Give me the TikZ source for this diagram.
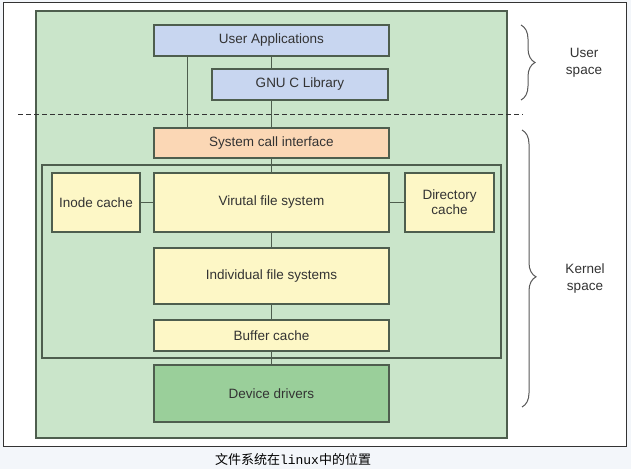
\documentclass[tikz,border=0pt]{standalone}
\usepackage{fontspec}
\setmainfont{Liberation Sans}
\newfontfamily\cjk{Noto Sans CJK SC}
\newfontfamily\monof{Liberation Mono}
\usepackage{xcolor}
\usepackage{tikz}
\usetikzlibrary{positioning,calc,decorations.pathreplacing}
\definecolor{pagebg}{HTML}{F3F6FA}
\definecolor{kgreen}{HTML}{CAE5CA}
\definecolor{kline}{HTML}{4E5E4E}
\definecolor{ublue}{HTML}{C8D6F0}
\definecolor{sorange}{HTML}{FBD7B5}
\definecolor{fyellow}{HTML}{FDF7C6}
\definecolor{dgreen}{HTML}{9ACF9A}
\definecolor{txt}{HTML}{333333}
\tikzset{
  layerbox/.style={draw=kline,line width=1.2pt,inner sep=0pt,align=center,
    text=txt,font=\fontsize{13.5}{16}\selectfont},
  link/.style={draw=kline,line width=1.2pt},
  spacebrace/.style={draw=black!65,line width=1pt,
    decorate,decoration={brace,amplitude=14pt}}
}

\begin{document}
\begin{tikzpicture}[x=1pt,y=-1pt]

  \fill[pagebg] (0,0) rectangle (631,469);
  \useasboundingbox (0,0) rectangle (631,469);
  \draw[fill=white,draw=black!80,line width=0.9pt] (3,2) rectangle (626,446);

  \draw[fill=kgreen,draw=kline,line width=1.4pt] (36,11) rectangle (507,438);
  \draw[draw=kline,line width=1.4pt] (42,165) rectangle (501,358);

  \node[layerbox,fill=ublue,minimum width=235pt,minimum height=31pt] at (271.5,40.5) (ua) {User Applications};
  \node[layerbox,fill=ublue,minimum width=176pt,minimum height=31pt] at (300,84.5) (glibc) {GNU C Library};
  \node[layerbox,fill=sorange,minimum width=235pt,minimum height=30pt] at (271.5,143) (sci) {System call interface};

  \node[layerbox,fill=fyellow,minimum width=235pt,minimum height=59pt] at (271.5,202.5) (vfs) {Virutal file system};
  \node[layerbox,fill=fyellow,minimum width=88pt,minimum height=59pt] at (96,202.5) (inode) {Inode cache};
  \node[layerbox,fill=fyellow,minimum width=89pt,minimum height=59pt] at (449.5,202.5) (dcache) {Directory\\[-1pt]cache};
  \node[layerbox,fill=fyellow,minimum width=235pt,minimum height=56pt] at (271.5,276) (ifs) {Individual file systems};
  \node[layerbox,fill=fyellow,minimum width=235pt,minimum height=31pt] at (271.5,335.5) (bcache) {Buffer cache};
  \node[layerbox,fill=dgreen,minimum width=235pt,minimum height=57pt] at (271.5,393.5) (ddrv) {Device drivers};

  \draw[link] ([xshift=34pt]ua.south west) -- ([xshift=34pt]sci.north west);
  \draw[link] (ua.south) -- (ua.south |- glibc.north);
  \draw[link] (ua.south |- glibc.south) -- (sci.north);
  \draw[link] (sci.south) -- (vfs.north);
  \draw[link] (inode.east) -- (vfs.west);
  \draw[link] (vfs.east) -- (dcache.west);
  \draw[link] (vfs.south) -- (ifs.north);
  \draw[link] (ifs.south) -- (bcache.north);
  \draw[link] (bcache.south) -- (ddrv.north);

  \coordinate (dashL) at (18,114);
  \coordinate (dashR) at (523,114);
  \draw[dashed,black!80,line width=1pt,dash pattern=on 5pt off 3pt] (dashL) -- (dashR);

  \coordinate (usertop) at (521,25);
  \coordinate (userbot) at (521,100);
  \coordinate (kerntop) at (522,130);
  \coordinate (kernbot) at (522,407);
  \draw[spacebrace] (usertop) -- (userbot);
  \draw[spacebrace,decoration={aspect=0.53}] (kerntop) -- (kernbot);

  \node[align=center,text=txt,font=\fontsize{13.5}{17}\selectfont] at (584,63) (user) {User\\space};
  \node[align=center,text=txt,font=\fontsize{13.5}{17}\selectfont] at (585,279) (kernel) {Kernel\\space};

  \node[font=\fontsize{13}{15}\selectfont] at (293,460) (caption) {\cjk 文件系统在{\monof linux}中的位置};

\end{tikzpicture}
\end{document}
